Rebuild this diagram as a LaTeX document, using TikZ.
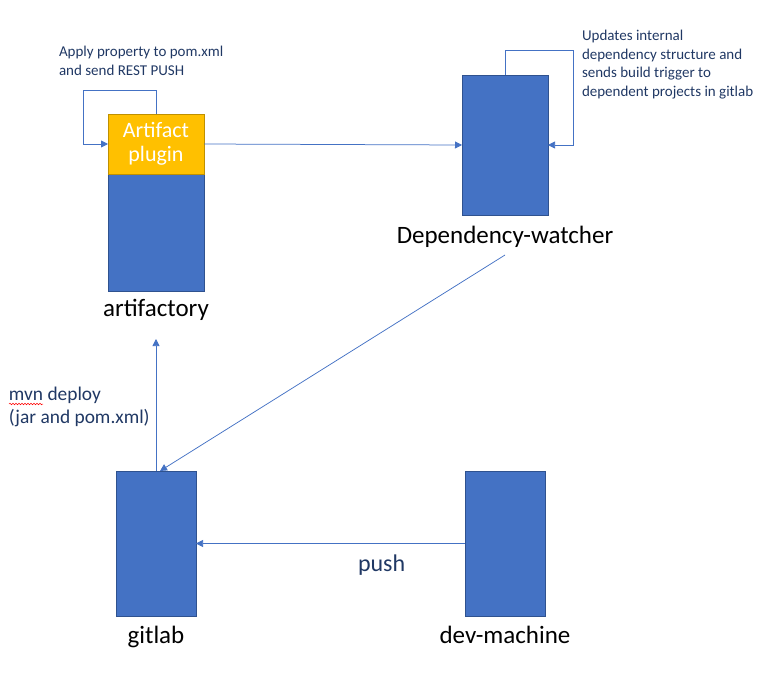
\documentclass[tikz,border=0pt]{standalone}
\usepackage{fontspec}
\setmainfont{Carlito}
\usetikzlibrary{positioning,arrows.meta,decorations.pathmorphing}
\definecolor{boxblue}{HTML}{4472C4}
\definecolor{boxedge}{HTML}{2F528F}
\definecolor{plugyellow}{HTML}{FFC000}
\definecolor{plugedge}{HTML}{BF9000}
\definecolor{notetext}{HTML}{203864}
\begin{document}
\begin{tikzpicture}[x=1pt,y=-1pt,inner sep=0pt,outer sep=0pt,
sysblock/.style={draw=boxedge,fill=boxblue,rectangle,line width=0.6pt},
plugblock/.style={draw=plugedge,fill=plugyellow,rectangle,line width=0.6pt,text=white,align=center,font=\fontsize{22}{24}\selectfont},
syslabel/.style={font=\fontsize{25}{28}\selectfont},
note/.style={text=notetext,align=left,anchor=west},
flow/.style={draw=boxblue,line width=0.75pt,-{Triangle[length=7pt,width=7pt]}}]
\useasboundingbox (0,0) rectangle (781,677);
\draw (156,232.5) node[sysblock,minimum width=96pt,minimum height=117pt] (art) {};
\node[plugblock,minimum width=96pt,minimum height=60pt,above=0pt of art] (plug) {Artifact\\plugin};
\draw (505,145) node[sysblock,minimum width=86pt,minimum height=140pt] (dw) {};
\draw (156,543.5) node[sysblock,minimum width=80pt,minimum height=145pt] (git) {};
\draw (505,543.5) node[sysblock,minimum width=80pt,minimum height=145pt] (dev) {};
\node[syslabel,below=8pt of art] (artl) {artifactory};
\node[syslabel,below=11pt of dw] (dwl) {Dependency-watcher};
\node[syslabel,below=10.5pt of git] (gitl) {gitlab};
\node[syslabel,below=10.5pt of dev] (devl) {dev-machine};
\coordinate (dwtail) at (505,255);
\coordinate (deploytip) at (156,339);
\draw[flow] (plug.north) -- ++(0,-24) -- ++(-73,0) |- (plug.west);
\draw[flow] (plug.east) -- (dw.west);
\draw[flow] (dw.north) -- ++(0,-25) -- ++(68,0) |- (dw.east);
\draw[flow] (dwtail) -- ([xshift=4pt]git.north);
\draw[flow] (git.north) -- (deploytip);
\draw[flow] (dev.west) -- (git.east) node[pos=0.31,below=11pt,text=notetext,font=\fontsize{24}{28}\selectfont] (pushl) {push};
\node[note,font=\fontsize{15}{19}\selectfont] (applynote) at (59,61) {Apply property to pom.xml\\and send REST PUSH};
\node[note,font=\fontsize{15}{18.5}\selectfont] (updnote) at (582,64.5) {Updates internal\\dependency structure and\\sends build trigger to\\dependent projects in gitlab};
\node[note,font=\fontsize{19.4}{23}\selectfont] (mvnnote) at (9,406.5) {mvn deploy\\(jar and pom.xml)};
\draw[red,line width=0.5pt,decorate,decoration={snake,amplitude=0.8pt,segment length=3pt}] (9,404) -- (43,404);
\end{tikzpicture}
\end{document}
